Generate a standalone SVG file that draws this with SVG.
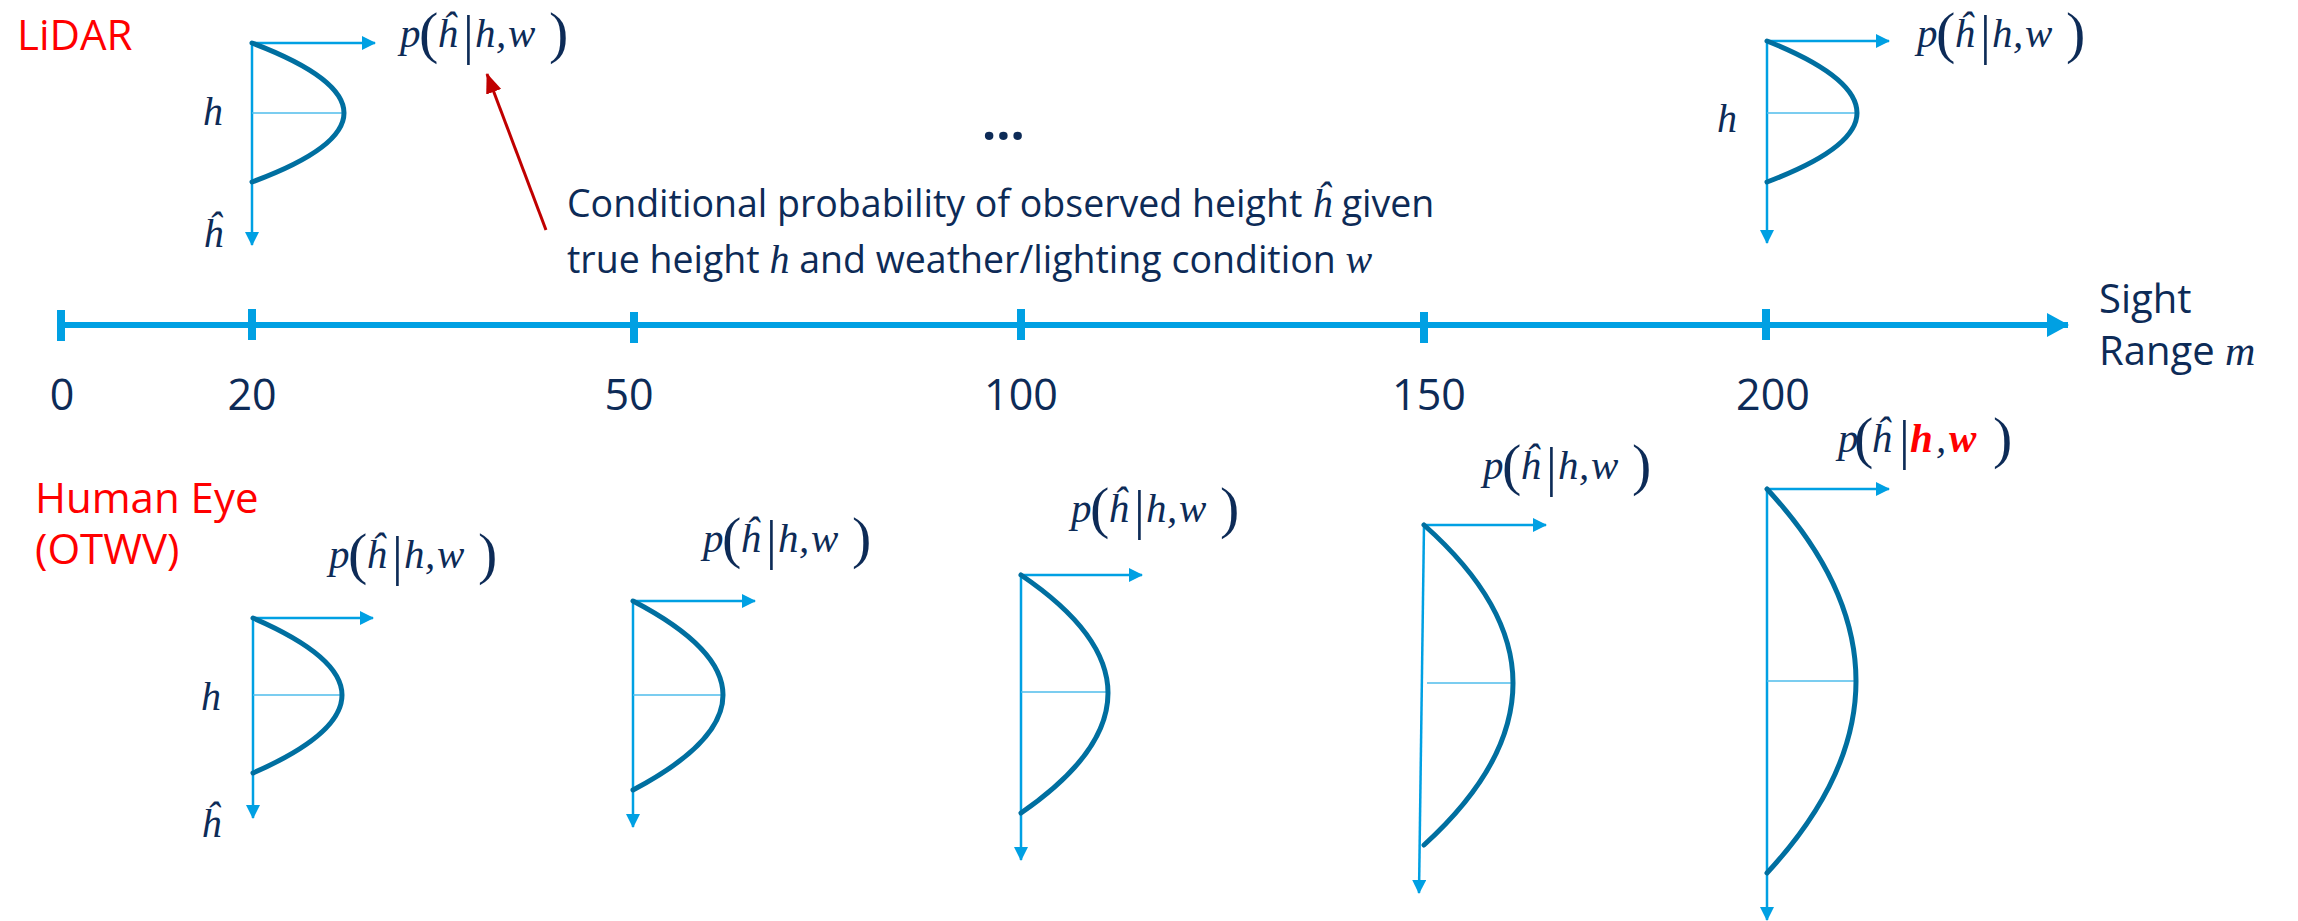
<svg xmlns="http://www.w3.org/2000/svg" xmlns:xlink="http://www.w3.org/1999/xlink" width="2298" height="921" viewBox="0 0 2298 921">
<style>
.ax{stroke:#00A0E3;stroke-width:2.5;fill:none}
.cv{stroke:#006FA0;stroke-width:5;fill:none;stroke-linecap:round}
.md{stroke:#4FBDEB;stroke-width:1.5}
.tx{font-family:"Open Sans","Liberation Sans",sans-serif;fill:#0D2B57}
.red{font-family:"Open Sans","Liberation Sans",sans-serif;fill:#FF0000;font-size:42px}
.m{font-family:"Liberation Serif",serif;font-style:italic;font-size:41px;fill:#0D2B57}
.par{font-style:normal;font-size:58px}
.bar{font-style:normal;font-size:54px}
.rb{fill:#FF0000;font-weight:bold}
.hl{font-family:"Liberation Serif",serif;font-style:italic;font-size:40px;fill:#0D2B57}
.num{font-family:"Open Sans","Liberation Sans",sans-serif;fill:#0D2B57;font-size:43px;text-anchor:middle}
.tick{stroke:#00A0E3;stroke-width:8}
</style>
<defs>
<marker id="ah" markerWidth="14" markerHeight="14" refX="13" refY="7" orient="auto" markerUnits="userSpaceOnUse"><path d="M0,0 L14,7 L0,14 z" fill="#00A0E3"/></marker>
<marker id="bh" markerWidth="22" markerHeight="24" refX="21" refY="12" orient="auto" markerUnits="userSpaceOnUse"><path d="M0,0 L22,12 L0,24 z" fill="#00A0E3"/></marker>
<marker id="rh" markerWidth="20" markerHeight="16" refX="19" refY="8" orient="auto" markerUnits="userSpaceOnUse"><path d="M0,0 L20,8 L0,16 z" fill="#C00000"/></marker>
<g id="pf">
<text class="m" x="0" y="0">p</text>
<text class="m par" x="19" y="5">(</text>
<text class="m" x="37" y="0">ĥ</text>
<text class="m bar" x="63" y="6">|</text>
<text class="m" x="75" y="0">h</text>
<text class="m" x="96" y="0">,</text>
<text class="m" x="108" y="0">w</text>
<text class="m par" x="149" y="5">)</text>
</g>
</defs>
<rect width="2298" height="921" fill="#FFFFFF"/>

<g id="labels">
<text class="red" x="17" y="50">LiDAR</text>
<text class="red" x="35" y="513">Human Eye</text>
<text class="red" x="35" y="564">(OTWV)</text>
<text class="tx" x="982" y="140" font-size="50" font-weight="bold">...</text>
<text class="tx" x="567" y="217" font-size="37.5">Conditional probability of observed height <tspan font-family="Liberation Serif" font-style="italic" font-size="40">ĥ</tspan> given</text>
<text class="tx" x="567" y="273" font-size="37.5">true height <tspan font-family="Liberation Serif" font-style="italic" font-size="40">h</tspan> and weather/lighting condition <tspan font-family="Liberation Serif" font-style="italic" font-size="40">w</tspan></text>
</g>

<g id="axis">
<line x1="61" y1="325" x2="2068" y2="325" stroke="#00A0E3" stroke-width="6" marker-end="url(#bh)"/>
<line class="tick" x1="61" y1="310" x2="61" y2="341"/>
<line class="tick" x1="252" y1="309" x2="252" y2="340"/>
<line class="tick" x1="634" y1="312" x2="634" y2="343"/>
<line class="tick" x1="1021" y1="309" x2="1021" y2="340"/>
<line class="tick" x1="1424" y1="312" x2="1424" y2="343"/>
<line class="tick" x1="1766" y1="309" x2="1766" y2="340"/>
<text class="num" x="62" y="410">0</text>
<text class="num" x="252" y="410">20</text>
<text class="num" x="629" y="410">50</text>
<text class="num" x="1021" y="410">100</text>
<text class="num" x="1429" y="410">150</text>
<text class="num" x="1773" y="410">200</text>
<text class="tx" x="2099" y="313" font-size="40">Sight</text>
<text class="tx" x="2099" y="365" font-size="40">Range <tspan font-family="Liberation Serif" font-style="italic" font-size="42">m</tspan></text>
</g>

<g id="lidar-20">
<line class="ax" x1="252" y1="43" x2="375" y2="43" marker-end="url(#ah)"/>
<line class="ax" x1="252" y1="43" x2="252" y2="245" marker-end="url(#ah)"/>
<line class="md" x1="252" y1="113" x2="344" y2="113"/>
<path class="cv" d="M252,43 Q344,78 344,113 Q344,148 252,182"/>
<use href="#pf" x="400" y="47"/>
<text class="hl" x="203" y="125">h</text>
<text class="hl" x="203" y="247">ĥ</text>
</g>

<g id="lidar-200">
<line class="ax" x1="1767" y1="41" x2="1889" y2="41" marker-end="url(#ah)"/>
<line class="ax" x1="1767" y1="41" x2="1767" y2="243" marker-end="url(#ah)"/>
<line class="md" x1="1767" y1="113" x2="1857" y2="113"/>
<path class="cv" d="M1767,41 Q1857,77 1857,113 Q1857,148 1767,182"/>
<use href="#pf" x="1917" y="47"/>
<text class="hl" x="1717" y="132">h</text>
</g>

<g id="eye-20">
<line class="ax" x1="253" y1="618" x2="373" y2="618" marker-end="url(#ah)"/>
<line class="ax" x1="253" y1="618" x2="253" y2="818" marker-end="url(#ah)"/>
<line class="md" x1="253" y1="695" x2="342" y2="695"/>
<path class="cv" d="M253,618 Q342,656.5 342,695 Q342,734 253,773"/>
<use href="#pf" x="329" y="568"/>
<text class="hl" x="201" y="710">h</text>
<text class="hl" x="201" y="837">ĥ</text>
</g>

<g id="eye-50">
<line class="ax" x1="633" y1="601" x2="755" y2="601" marker-end="url(#ah)"/>
<line class="ax" x1="633" y1="601" x2="633" y2="827" marker-end="url(#ah)"/>
<line class="md" x1="633" y1="695" x2="723" y2="695"/>
<path class="cv" d="M633,601 Q723,648 723,695 Q723,742.5 633,790"/>
<use href="#pf" x="703" y="552"/>
</g>

<g id="eye-100">
<line class="ax" x1="1021" y1="575" x2="1142" y2="575" marker-end="url(#ah)"/>
<line class="ax" x1="1021" y1="575" x2="1021" y2="860" marker-end="url(#ah)"/>
<line class="md" x1="1021" y1="692" x2="1108" y2="692"/>
<path class="cv" d="M1021,575 Q1108,634 1108,693 Q1108,753 1021,813"/>
<use href="#pf" x="1071" y="522"/>
</g>

<g id="eye-150">
<line class="ax" x1="1424" y1="525" x2="1546" y2="525" marker-end="url(#ah)"/>
<line class="ax" x1="1424" y1="525" x2="1419" y2="893" marker-end="url(#ah)"/>
<line class="md" x1="1427" y1="683" x2="1515" y2="683"/>
<path class="cv" d="M1424,525 Q1513,604 1513,683 Q1513,764 1424,845"/>
<use href="#pf" x="1483" y="479"/>
</g>

<g id="eye-200">
<line class="ax" x1="1767" y1="489" x2="1889" y2="489" marker-end="url(#ah)"/>
<line class="ax" x1="1767" y1="489" x2="1767" y2="920" marker-end="url(#ah)"/>
<line class="md" x1="1767" y1="681" x2="1856" y2="681"/>
<path class="cv" d="M1767,489 Q1856,585 1856,681 Q1856,777 1767,873"/>
<g transform="translate(1838,452)">
<text class="m" x="0" y="0">p</text>
<text class="m par" x="16" y="5">(</text>
<text class="m" x="33" y="0">ĥ</text>
<text class="m bar" x="61" y="6">|</text>
<text class="m rb" x="72" y="0">h</text>
<text class="m" x="98" y="0">,</text>
<text class="m rb" x="111" y="0">w</text>
<text class="m par" x="155" y="5">)</text>
</g>
</g>

<g id="connectors">
<line x1="546" y1="230" x2="487" y2="74" stroke="#C00000" stroke-width="3" marker-end="url(#rh)"/>
</g>
</svg>
